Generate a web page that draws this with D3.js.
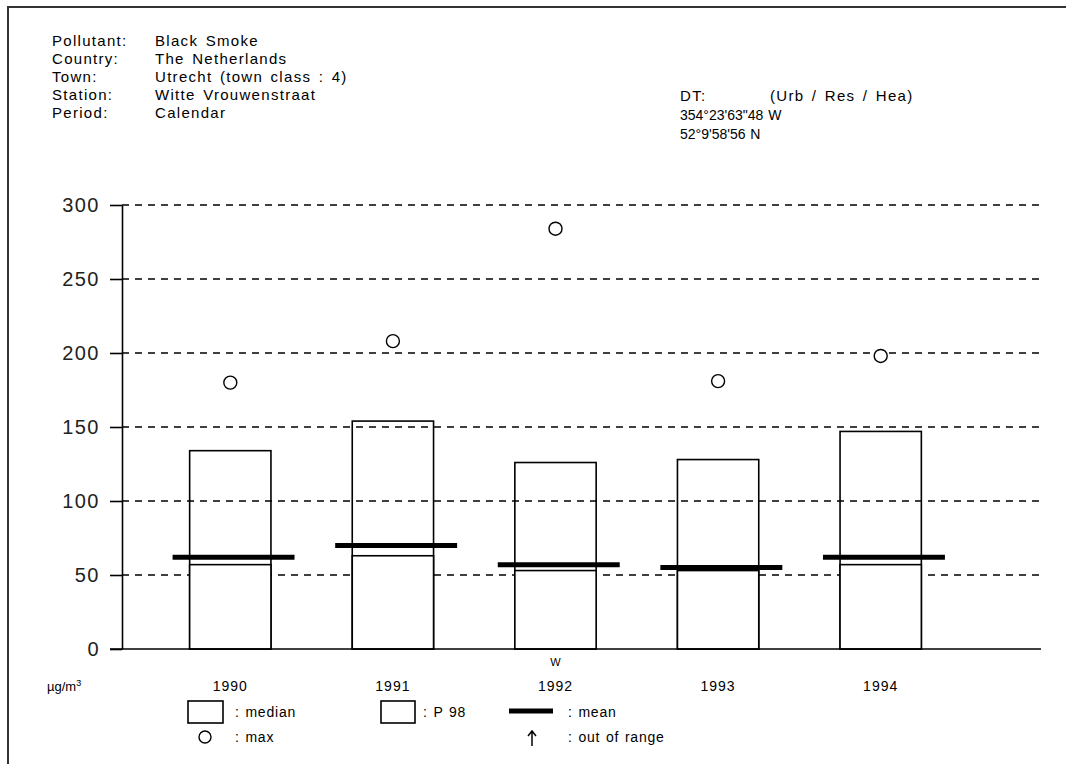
<!DOCTYPE html>
<html>
<head>
<meta charset="utf-8">
<script src="https://cdn.jsdelivr.net/npm/d3@7"></script>
<style>
  body { margin: 0; background: #fff; }
  svg { display: block; font-family: "Liberation Sans", Arial, sans-serif; }
</style>
</head>
<body>
<div id="chart"></div>
<script>
// station info
const headerLabels = ['Pollutant:', 'Country:', 'Town:', 'Station:', 'Period:'];
const headerValues = ['Black Smoke', 'The Netherlands', 'Utrecht (town class : 4)', 'Witte Vrouwenstraat', 'Calendar'];
const coordLines = ['354°23\'63"48 W', '52°9\'58\'56 N'];

// series
const years = ['1990', '1991', '1992', '1993', '1994'];
const p98 = [134, 154, 126, 128, 147];
const median = [57, 63, 53, 53, 57];
const mean = [62, 70, 57, 55, 62];
const maxValues = [180, 208, 284, 181, 198];
const yTicks = [0, 50, 100, 150, 200, 250, 300];

const W = 1066, H = 764;

const svg = d3.select('#chart')
    .append('svg')
    .attr('width', W)
    .attr('height', H);

// outer frame (only top + left edges visible)
svg.append('rect')
    .attr('x', 8)
    .attr('y', 7)
    .attr('width', W + 20)
    .attr('height', H + 20)
    .attr('fill', 'none')
    .attr('stroke', '#333')
    .attr('stroke-width', 2);

// header block
const header = svg.append('g')
    .style('font-size', '15px')
    .style('letter-spacing', '1.3px')
    .style('word-spacing', '2px')
    .attr('fill', '#000');
headerLabels.forEach((t, i) => {
    header.append('text').attr('x', 52).attr('y', 46 + i * 18).text(t);
    header.append('text').attr('x', 155).attr('y', 46 + i * 18).text(headerValues[i]);
});
header.append('text').attr('x', 680).attr('y', 101).text('DT:');
header.append('text').attr('x', 770).attr('y', 101).text('(Urb / Res / Hea)');
coordLines.forEach((t, i) => {
    header.append('text')
        .attr('x', 680)
        .attr('y', 120 + i * 19)
        .style('font-size', '14px')
        .style('letter-spacing', '0px')
        .style('word-spacing', '1px')
        .text(t);
});

// scales
const y = d3.scaleLinear().domain([0, 300]).range([649, 205]);
const x = d3.scaleBand()
    .domain(years)
    .range([149, 962])
    .paddingInner(0.5)
    .paddingOuter(0.25);
const bw = x.bandwidth();

// dashed grid
svg.append('g')
    .selectAll('line')
    .data(yTicks.filter(d => d > 0))
    .join('line')
    .attr('x1', 122)
    .attr('x2', 1040)
    .attr('y1', d => y(d))
    .attr('y2', d => y(d))
    .attr('stroke', '#000')
    .attr('stroke-width', 1.5)
    .attr('stroke-dasharray', '7,6');

// P98 boxes (unfilled)
svg.append('g')
    .selectAll('rect')
    .data(years)
    .join('rect')
    .attr('x', d => x(d))
    .attr('y', (d, i) => y(p98[i]))
    .attr('width', bw)
    .attr('height', (d, i) => y(0) - y(p98[i]))
    .attr('fill', 'none')
    .attr('stroke', '#000')
    .attr('stroke-width', 1.6);

// median boxes (white filled, hide grid)
svg.append('g')
    .selectAll('rect')
    .data(years)
    .join('rect')
    .attr('x', d => x(d))
    .attr('y', (d, i) => y(median[i]))
    .attr('width', bw)
    .attr('height', (d, i) => y(0) - y(median[i]))
    .attr('fill', '#fff')
    .attr('stroke', '#000')
    .attr('stroke-width', 1.6);

// mean bars
svg.append('g')
    .selectAll('line')
    .data(years)
    .join('line')
    .attr('x1', d => x(d) - bw * 0.21)
    .attr('x2', d => x(d) + bw * 1.29)
    .attr('y1', (d, i) => y(mean[i]))
    .attr('y2', (d, i) => y(mean[i]))
    .attr('stroke', '#000')
    .attr('stroke-width', 5);

// max circles
svg.append('g')
    .selectAll('circle')
    .data(years)
    .join('circle')
    .attr('cx', d => x(d) + bw / 2)
    .attr('cy', (d, i) => y(maxValues[i]))
    .attr('r', 6.5)
    .attr('fill', '#fff')
    .attr('stroke', '#000')
    .attr('stroke-width', 1.4);

// y axis
const yAxis = svg.append('g')
    .attr('transform', 'translate(122,0)')
    .call(d3.axisLeft(y).tickValues(yTicks).tickSize(12).tickSizeOuter(0).tickPadding(10));
yAxis.select('.domain').attr('stroke-width', 1.6);
yAxis.selectAll('.tick line').attr('stroke-width', 1.6);
yAxis.selectAll('.tick text')
    .style('font-family', '"Liberation Sans", Arial, sans-serif')
    .style('font-size', '20px')
    .style('letter-spacing', '1.5px')
    .attr('fill', '#222');

// x axis line
svg.append('line')
    .attr('x1', 110)
    .attr('x2', 1041)
    .attr('y1', y(0))
    .attr('y2', y(0))
    .attr('stroke', '#000')
    .attr('stroke-width', 1.6);

// year labels
svg.append('g')
    .selectAll('text')
    .data(years)
    .join('text')
    .attr('x', d => x(d) + bw / 2)
    .attr('y', 691)
    .attr('text-anchor', 'middle')
    .style('font-size', '14px')
    .style('letter-spacing', '1px')
    .text(d => d);

svg.append('text')
    .attr('x', x('1992') + bw / 2)
    .attr('y', 666)
    .attr('text-anchor', 'middle')
    .style('font-size', '11px')
    .text('W');

// unit
const unit = svg.append('text').attr('x', 47).attr('y', 691).style('font-size', '13px');
unit.append('tspan').text('µg/m');
unit.append('tspan').attr('dy', -5).style('font-size', '9px').text('3');

// legend
const legend = svg.append('g')
    .style('font-size', '14px')
    .style('letter-spacing', '0.8px')
    .style('word-spacing', '1px');
legend.append('rect').attr('x', 188).attr('y', 701).attr('width', 35).attr('height', 22)
    .attr('fill', 'none').attr('stroke', '#000').attr('stroke-width', 1.6);
legend.append('text').attr('x', 235).attr('y', 717).text(': median');
legend.append('rect').attr('x', 381).attr('y', 701).attr('width', 34).attr('height', 22)
    .attr('fill', 'none').attr('stroke', '#000').attr('stroke-width', 1.6);
legend.append('text').attr('x', 423).attr('y', 717).text(': P 98');
legend.append('line').attr('x1', 509).attr('x2', 553).attr('y1', 711).attr('y2', 711)
    .attr('stroke', '#000').attr('stroke-width', 5);
legend.append('text').attr('x', 568).attr('y', 717).text(': mean');
legend.append('circle').attr('cx', 205).attr('cy', 737).attr('r', 6)
    .attr('fill', 'none').attr('stroke', '#000').attr('stroke-width', 1.4);
legend.append('text').attr('x', 235).attr('y', 742).text(': max');
// out-of-range arrow
legend.append('path')
    .attr('d', 'M532,746 L532,731 M528,736 L532,731 L536,736')
    .attr('fill', 'none')
    .attr('stroke', '#000')
    .attr('stroke-width', 1.5);
legend.append('text').attr('x', 568).attr('y', 742).text(': out of range');
</script>
</body>
</html>
